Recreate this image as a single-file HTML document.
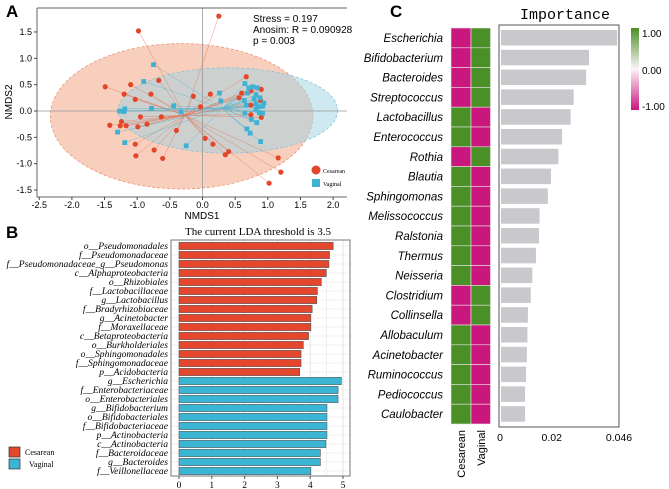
<!DOCTYPE html>
<html><head><meta charset="utf-8"><style>
body{margin:0;background:#fff}
svg{display:block;font-family:"Liberation Sans",sans-serif}
.serif{font-family:"Liberation Serif",serif}
</style></head><body>
<svg id="s" width="669" height="489" viewBox="0 0 669 489"></svg>
<script>
// ---------- Panel A data ----------
const cesX=[0.25,-0.98,-1.49,-1.10,-0.67,-1.20,-1.03,-0.79,-0.14,0.12,-0.03,-0.95,-0.63,-1.24,-1.42,-1.26,-1.17,-0.99,-0.85,-0.40,0.04,0.16,-1.03,-0.74,-1.02,-0.61,0.35,0.40,1.16,1.20,1.02,0.67,0.74,0.90,0.60,0.56,0.74,0.74,0.90,0.89];
const cesY=[1.80,1.52,0.46,0.50,0.58,0.32,0.22,0.32,0.28,0.32,0.08,-0.11,-0.11,-0.20,-0.27,-0.28,-0.28,-0.30,-0.25,-0.37,-0.52,-0.63,-0.63,-0.74,-0.85,-0.90,-0.83,-0.77,-0.89,-1.16,-1.37,0.65,0.38,0.41,0.34,0.25,0.11,-0.07,-0.12,0.20];
const vagX=[-0.75,-0.90,-1.27,-1.19,-1.20,-0.78,-0.44,-0.33,-1.30,-1.19,-0.25,0.26,0.28,0.65,0.71,0.77,0.84,0.69,0.82,0.88,0.79,0.64,0.67,0.82,0.94,0.92,0.85,0.82,0.87,0.92,0.65,0.75,0.83,0.68,0.73,0.89];
const vagY=[0.88,0.56,0.00,0.04,-0.01,0.05,0.10,-0.02,-0.40,-0.60,-0.66,0.34,0.19,0.52,0.44,0.46,0.44,0.34,0.31,0.25,0.23,0.20,0.11,0.14,0.15,0.09,0.08,0.03,-0.03,-0.04,-0.04,-0.16,-0.22,-0.34,-0.42,-0.58];
const nmdsXTicks=[-2.5,-2.0,-1.5,-1.0,-0.5,0.0,0.5,1.0,1.5,2.0];
const nmdsYTicks=[1.5,1.0,0.5,0.0,-0.5,-1.0,-1.5];
const cesCentroid=[-0.27,-0.08], vagCentroid=[0.30,0.05];
const cesEllipse=[-0.32,-0.10,2.01,1.38], vagEllipse=[0.39,0.01,1.68,0.81];
// ---------- Panel B data ----------
const ldaLabels=["o__Pseudomonadales","f__Pseudomonadaceae","f__Pseudomonadaceae_g__Pseudomonas","c__Alphaproteobacteria","o__Rhizobiales","f__Lactobacillaceae","g__Lactobacillus","f__Bradyrhizobiaceae","g__Acinetobacter","f__Moraxellaceae","c__Betaproteobacteria","o__Burkholderiales","o__Sphingomonadales","f__Sphingomonadaceae","p__Acidobacteria","g__Escherichia","f__Enterobacteriaceae","o__Enterobacteriales","g__Bifidobacterium","o__Bifidobacteriales","f__Bifidobacteriaceae","p__Actinobacteria","c__Actinobacteria","f__Bacteroidaceae","g__Bacteroides","f__Veillonellaceae"];
const ldaValues=[4.70,4.59,4.57,4.49,4.34,4.22,4.20,4.06,4.02,4.02,3.95,3.79,3.72,3.72,3.68,4.95,4.85,4.85,4.51,4.51,4.51,4.51,4.48,4.31,4.31,4.02];
const ldaGroup=["C","C","C","C","C","C","C","C","C","C","C","C","C","C","C","V","V","V","V","V","V","V","V","V","V","V"];
const ldaTicks=[0,1,2,3,4,5];
// ---------- Panel C data ----------
const genera=["Escherichia","Bifidobacterium","Bacteroides","Streptococcus","Lactobacillus","Enterococcus","Rothia","Blautia","Sphingomonas","Melissococcus","Ralstonia","Thermus","Neisseria","Clostridium","Collinsella","Allobaculum","Acinetobacter","Ruminococcus","Pediococcus","Caulobacter"];
const importance=[0.0449,0.0340,0.0329,0.0281,0.0269,0.0236,0.0222,0.0193,0.0181,0.0149,0.0147,0.0135,0.0121,0.0115,0.0104,0.0102,0.0100,0.0097,0.0093,0.0093];
const cesScore=[-1,-1,-1,-1,1,1,-1,1,1,1,1,1,1,-1,-1,1,1,1,1,1];
const vagScore=[1,1,1,1,-1,-1,1,-1,-1,-1,-1,-1,-1,1,1,-1,-1,-1,-1,-1];
const impTicks=[0,0.02,0.046];
const impTickLabels=["0","0.02","0.046"];

const S=document.getElementById('s'),NS="http://www.w3.org/2000/svg";
function mk(tag,at,parent,txt){const e=document.createElementNS(NS,tag);for(const k in at)e.setAttribute(k,at[k]);if(txt!==undefined)e.textContent=txt;(parent||S).appendChild(e);return e;}

// ===== Panel A =====
const ax=v=>202.5+v*65.3, ay=v=>111-v*52.7;
const gA=mk('g',{});


let t=mk('text',{x:6,y:17,'font-size':17,'font-weight':'bold'},gA,'A');

mk('defs',{},gA).innerHTML='<clipPath id="ca"><rect x="37" y="8" width="310" height="189"/></clipPath>';
const pa=mk('g',{'clip-path':'url(#ca)'},gA);
let e=mk('ellipse',{cx:ax(cesEllipse[0]),cy:ay(cesEllipse[1]),rx:cesEllipse[2]*65.3,ry:cesEllipse[3]*52.7,fill:'#f6c3ac','fill-opacity':0.8,stroke:'#e88a6a','stroke-dasharray':'3 2','stroke-width':0.7},pa);

e=mk('ellipse',{cx:ax(vagEllipse[0]),cy:ay(vagEllipse[1]),rx:vagEllipse[2]*65.3,ry:vagEllipse[3]*52.7,fill:'#9fd3e3','fill-opacity':0.5,stroke:'#7cc0d6','stroke-dasharray':'3 2','stroke-width':0.7},pa);

mk('line',{x1:37,x2:347,y1:ay(0),y2:ay(0),stroke:'#999','stroke-width':0.8},pa);
mk('line',{x1:ax(0),x2:ax(0),y1:8,y2:197,stroke:'#999','stroke-width':0.8},pa);
for(let i=0;i<cesX.length;i++){const l=mk('line',{x1:ax(cesCentroid[0]),y1:ay(cesCentroid[1]),x2:ax(cesX[i]),y2:ay(cesY[i]),stroke:'#e4765a','stroke-width':0.5,'stroke-opacity':0.8},pa);
}
for(let i=0;i<vagX.length;i++){const l=mk('line',{x1:ax(vagCentroid[0]),y1:ay(vagCentroid[1]),x2:ax(vagX[i]),y2:ay(vagY[i]),stroke:'#5ab4cf','stroke-width':0.5,'stroke-opacity':0.8},pa);
}
for(let i=0;i<cesX.length;i++){const c=mk('circle',{cx:ax(cesX[i]),cy:ay(cesY[i]),r:2.6,fill:'#e2472c'},pa);
}
for(let i=0;i<vagX.length;i++){const r=mk('rect',{x:ax(vagX[i])-2.4,y:ay(vagY[i])-2.4,width:4.8,height:4.8,fill:'#3fb1d3'},pa);
}
mk('path',{d:'M37,8V197H347',fill:'none',stroke:'#666','stroke-width':1},gA);
mk('line',{x1:37,x2:347,y1:8,y2:8,stroke:'#666','stroke-width':1},gA);
nmdsXTicks.forEach(v=>{mk('line',{x1:ax(v),x2:ax(v),y1:197,y2:200,stroke:'#444'},gA);
const tt=mk('text',{x:ax(v),y:208,'font-size':9,'text-anchor':'middle'},gA,v.toFixed(1));});
nmdsYTicks.forEach(v=>{mk('line',{x1:34,x2:37,y1:ay(v),y2:ay(v),stroke:'#444'},gA);
const tt=mk('text',{x:32,y:ay(v)+3,'font-size':9,'text-anchor':'end'},gA,v.toFixed(1));});
t=mk('text',{x:202,y:219,'font-size':10,'text-anchor':'middle'},gA,'NMDS1');
t=mk('text',{x:12,y:102,'font-size':10,'text-anchor':'middle',transform:'rotate(-90 12 102)'},gA,'NMDS2');
['Stress = 0.197','Anosim: R = 0.090928','p = 0.003'].forEach((s,i)=>{const tt=mk('text',{x:253,y:22+i*11,'font-size':10},gA,s);});
let lg=mk('g',{},gA);
mk('circle',{cx:316,cy:170,r:4.5,fill:'#e2472c'},lg);mk('text',{x:323,y:173,'font-size':6,class:'serif'},lg,'Cesarean');
lg=mk('g',{},gA);
mk('rect',{x:312,y:179,width:8,height:8,fill:'#3fb1d3'},lg);mk('text',{x:323,y:186,'font-size':6,class:'serif'},lg,'Vaginal');

// ===== Panel B =====
const bx=v=>179+v*32.8, by=i=>246+i*9.0;
const gB=mk('g',{});
t=mk('text',{x:6,y:238,'font-size':17,'font-weight':'bold'},gB,'B');
t=mk('text',{x:258,y:235,'font-size':11,'text-anchor':'middle',class:'serif'},gB,'The current LDA threshold is 3.5');
mk('rect',{x:171,y:240,width:179,height:236,fill:'#fff',stroke:'none'},gB);
for(let k=0;k<=10;k++){const v=k*0.5;mk('line',{x1:bx(v),x2:bx(v),y1:240,y2:476,stroke:k%2===0?'#dcdcdc':'#ececec','stroke-width':0.8},gB);}
ldaLabels.forEach((lab,i)=>{const y=by(i);mk('line',{x1:171,x2:350,y1:y,y2:y,stroke:'#e6e6e6','stroke-width':0.6},gB);});
ldaValues.forEach((v,i)=>{const r=mk('rect',{x:bx(0),y:by(i)-3.6,width:bx(v)-bx(0),height:7.2,fill:ldaGroup[i]==='C'?'#e4472d':'#3ab6d4',stroke:'#555','stroke-width':0.6},gB);

const tt=mk('text',{x:168,y:by(i)+3.2,'font-size':9.6,'text-anchor':'end','font-style':'italic',class:'serif'},gB,ldaLabels[i]);});
mk('rect',{x:171,y:240,width:179,height:236,fill:'none',stroke:'#777','stroke-width':1},gB);
ldaTicks.forEach(v=>{mk('line',{x1:bx(v),x2:bx(v),y1:476,y2:479,stroke:'#555'},gB);
const tt=mk('text',{x:bx(v),y:488,'font-size':9.5,'text-anchor':'middle',class:'serif'},gB,String(v));});
lg=mk('g',{},gB);
mk('rect',{x:9,y:447,width:11,height:10,fill:'#e4472d',stroke:'#333','stroke-width':0.7},lg);mk('text',{x:25,y:455,'font-size':8,class:'serif'},lg,'Cesarean');
lg=mk('g',{},gB);
mk('rect',{x:9,y:459,width:11,height:10,fill:'#3ab6d4',stroke:'#333','stroke-width':0.7},lg);mk('text',{x:29,y:467,'font-size':8,class:'serif'},lg,'Vaginal');

// ===== Panel C =====
const cy=i=>28+i*19.8, ix=v=>500+v/0.046*119;
const gC=mk('g',{});
t=mk('text',{x:390,y:17,'font-size':17,'font-weight':'bold'},gC,'C');
t=mk('text',{x:565,y:19,'font-size':15,'text-anchor':'middle','font-family':'Liberation Mono,monospace'},gC,'Importance');
const col=v=>v>0?'#4b8f27':'#c9177e';
genera.forEach((g,i)=>{
 const tt=mk('text',{x:443,y:cy(i)+14,'font-size':11.5,'text-anchor':'end','font-style':'italic'},gC,g);
 let r=mk('rect',{x:451,y:cy(i),width:20,height:19.8,fill:col(cesScore[i]),stroke:'#e8e8e8','stroke-width':0.6},gC);
 r=mk('rect',{x:471,y:cy(i),width:19.5,height:19.8,fill:col(vagScore[i]),stroke:'#e8e8e8','stroke-width':0.6},gC);
 r=mk('rect',{x:ix(0)+1,y:cy(i)+2,width:ix(importance[i])-ix(0),height:15.5,fill:'#c8c8cd'},gC);
});
mk('rect',{x:499,y:25,width:120,height:402,fill:'none',stroke:'#555','stroke-width':1},gC);
impTicks.forEach((v,i)=>{const tt=mk('text',{x:ix(v),y:441,'font-size':10.5,'text-anchor':'middle'},gC,impTickLabels[i]);});
t=mk('text',{x:465,y:430,'font-size':11,'text-anchor':'end',transform:'rotate(-90 465 430)'},gC,'Cesarean');
t=mk('text',{x:485,y:430,'font-size':11,'text-anchor':'end',transform:'rotate(-90 485 430)'},gC,'Vaginal');
mk('defs',{},gC).innerHTML='<linearGradient id="cb" x1="0" y1="0" x2="0" y2="1"><stop offset="0" stop-color="#4b8f27"/><stop offset="0.5" stop-color="#fbf4f8"/><stop offset="1" stop-color="#c9177e"/></linearGradient>';
const cb=mk('rect',{x:631,y:28,width:8,height:82,fill:'url(#cb)'},gC);
[['1.00',37],['0.00',74],['-1.00',110]].forEach(([s,y])=>{const tt=mk('text',{x:642,y:y,'font-size':10},gC,s);});
</script>
</body></html>
